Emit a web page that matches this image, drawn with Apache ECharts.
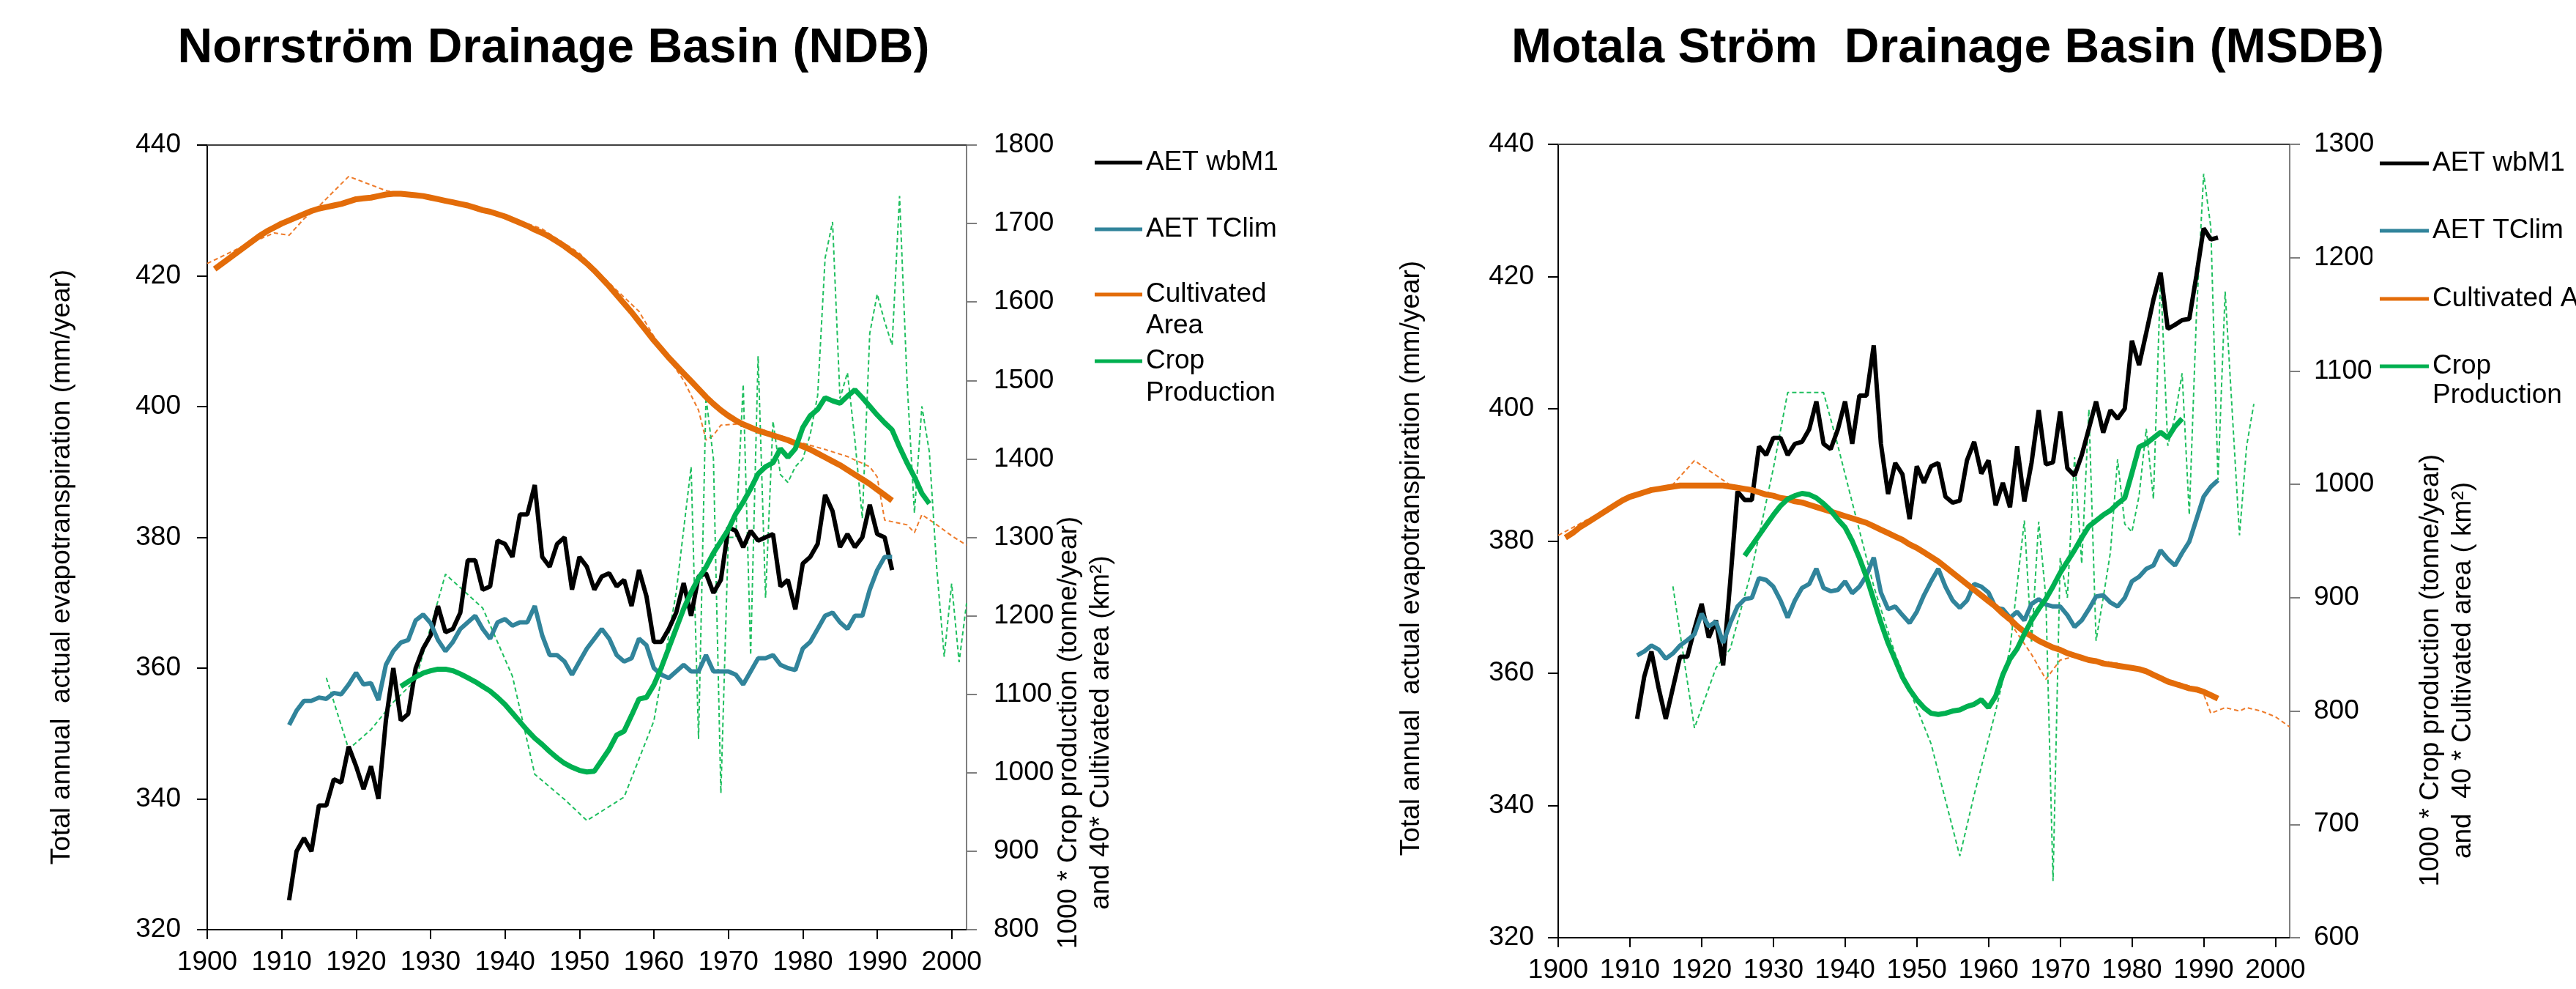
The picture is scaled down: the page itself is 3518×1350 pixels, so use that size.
<!DOCTYPE html>
<html><head><meta charset="utf-8">
<script src="https://cdn.jsdelivr.net/npm/echarts@6/dist/echarts.min.js"></script>
<style>html,body{margin:0;padding:0;background:#fff}#c{width:3518px;height:1350px}</style>
</head><body><div id="c"></div>
<script>
// ---------------- DATA ----------------
const xTickYears = [1900,1910,1920,1930,1940,1950,1960,1970,1980,1990,2000];

// NDB (left panel)
const ndbAetStart = 1911;
const ndbAetWbm1 = [324.5,332,334,332,339,339,343,342.5,348,345,
  341.5,345,340,352,360,352,353,360,363,365,
  369.5,365.5,366,368.5,376.5,376.5,372,372.5,379.5,379,
  377,383.5,383.5,388,377,375.5,379,380,372,377,
  375.5,372,374,374.5,372.5,373.5,369.5,375,371,364,
  364,366,368.5,373,368,374,374.5,371.5,373.5,381.5,
  381,378.5,381,379.5,380,380.5,372.5,373.5,369,376,
  377,379,386.5,384,378.5,380.5,378.5,380,385,380.5,
  380,375];
const ndbAetTclim = [351.3,353.5,355,355,355.5,355.3,356.2,356,357.5,359.3,
  357.5,357.7,355.1,360.5,362.6,363.9,364.3,367.3,368.2,366.9,
  364.3,362.6,364,366,367,368,366,364.5,367,367.5,
  366.5,367,367,369.5,365,362,362,361,359,361,
  363,364.5,366,364.5,362,361,361.5,364.5,363.5,360,
  359,358.5,359.5,360.5,359.5,359.5,362,359.5,359.5,359.5,
  359,357.5,359.5,361.5,361.5,362,360.5,360,359.7,363,
  364,366,368,368.5,367,366,368,368,372,375,
  377,377];
const ndbCultStart = 1901;
const ndbCultArea = [1642,1649,1656,1663,1670,1677,1684,1690,1695,1700,
  1704,1708,1712,1716,1719,1721,1723,1725,1728,1731,
  1732,1733,1735,1737,1738,1738,1737,1736,1735,1733,
  1731,1729,1727,1725,1723,1720,1717,1715,1712,1709,
  1705,1701,1697,1692,1688,1683,1677,1671,1664,1657,
  1649,1640,1630,1620,1609,1598,1587,1575,1563,1551,
  1540,1529,1519,1509,1499,1489,1479,1470,1462,1455,
  1449,1444,1440,1436,1433,1430,1427,1424,1420,1416,
  1412,1407,1402,1397,1392,1386,1380,1374,1368,1361,
  1354,1347];
const ndbCultRawYears = [1900,1905,1909,1911,1913,1915,1919,1924,1926,1930,1935,1940,1945,1950,1955,1958,1960,1962,1964,1966,1967,1968,1969,1972,1975,1980,1983,1986,1989,1990,1991,1993,1994,1995,1996,1998,2000,2002];
const ndbCultRawVals  = [1649,1672,1688,1685,1706,1722,1760,1742,1738,1733,1724,1710,1693,1662,1615,1588,1556,1528,1500,1462,1424,1430,1443,1445,1436,1420,1412,1403,1390,1377,1322,1318,1316,1306,1329,1316,1302,1290];
const ndbCropStart = 1926;
const ndbCropProd = [1110,1116,1122,1127,1130,1132,1132,1130,1126,1121,
  1116,1110,1104,1096,1087,1076,1065,1054,1044,1036,
  1027,1019,1012,1007,1003,1001,1002,1016,1030,1048,
  1053,1073,1094,1096,1112,1134,1159,1184,1209,1230,
  1248,1262,1280,1295,1310,1330,1345,1362,1381,1390,
  1395,1413,1402,1413,1440,1455,1463,1478,1474,1471,
  1480,1488,1478,1467,1456,1446,1437,1415,1395,1377,
  1356,1343];
const ndbCropRawYears = [1916,1919,1922,1925,1928,1932,1937,1941,1944,1948,1951,1956,1960,1963,1965,1966,1967,1968,1969,1970,1971,1972,1973,1974,1975,1976,1977,1978,1979,1980,1981,1982,1983,1984,1985,1986,1987,1988,1989,1990,1991,1992,1993,1994,1995,1996,1997,1998,1999,2000,2001,2002];
const ndbCropRawVals  = [1121,1030,1055,1090,1118,1253,1210,1123,998,966,939,969,1066,1230,1390,1043,1479,1400,974,1300,1300,1495,1150,1531,1223,1448,1380,1370,1390,1400,1431,1481,1656,1702,1477,1510,1424,1324,1560,1610,1575,1545,1735,1500,1331,1467,1409,1260,1148,1241,1141,1216];

// MSDB (right panel)
const msdbAetStart = 1911;
const msdbAetWbm1 = [353.1,359.5,363.3,357.8,353.1,357.8,362.5,362.5,366.7,370.5,
  365.4,368,361.2,374,387.5,386.2,386.2,394.3,393,395.6,
  395.6,393,394.7,395,396.9,401.1,394.7,393.9,396.9,401.1,
  394.7,402,402,409.6,394.7,387.1,391.8,390.1,383.3,391.3,
  388.8,391.3,391.8,386.7,385.8,386.1,392.2,395,390.2,392.2,
  385.4,388.8,385.1,394.3,386,391.8,399.8,391.6,391.9,399.6,
  391,389.9,393,397,401.1,396.4,399.8,398.5,400,410.3,
  406.6,411.5,416.5,420.6,412.1,412.7,413.4,413.6,420.2,427.3,
  425.6,425.9];
const msdbAetTclim = [362.7,363.3,364.2,363.6,362.2,363,364.2,365,365.9,369,
  367.1,367.8,364.6,367.6,370.1,371.2,371.4,374.4,374.1,373.1,
  371,368.4,371,372.9,373.5,375.8,372.9,372.4,372.6,373.9,
  372.1,373.1,374.8,377.5,372.2,369.7,370.1,368.8,367.6,369.3,
  371.8,373.9,375.8,373.1,371,369.9,371,373.5,373.1,372.2,
  369.9,369.7,368.4,369.3,368,370.5,371.2,370.4,370.1,370.1,
  368.8,367,368,369.7,371.6,371.8,370.7,370.1,371.4,373.9,
  374.6,375.8,376.3,378.6,377.3,376.3,378.2,379.9,383.3,386.7,
  388.2,389.2];
const msdbCultStart = 1901;
const msdbCultArea = [953,957,962,966,970,974,978,982,986,989,
  991,993,995,996,997,998,999,999,999,999,
  999,999,999,998,997,996,995,993,991,990,
  988,987,985,984,982,980,978,976,974,972,
  970,968,966,963,960,957,954,951,947,944,
  940,936,932,927,922,917,912,907,902,897,
  892,886,881,875,870,866,862,859,856,854,
  851,849,847,845,844,842,841,840,839,838,
  837,835,832,829,826,824,822,820,819,817,
  814,811];
const msdbCultRawYears = [1900,1905,1910,1914,1916,1919,1922,1925,1928,1932,1936,1940,1945,1950,1955,1960,1963,1966,1968,1970,1972,1975,1978,1980,1984,1988,1990,1991,1993,1995,1996,1998,2000,2002];
const msdbCultRawVals  = [955,972,988,997,1000,1021,1008,995,993,987,980,972,960,942,922,896,878,850,828,845,848,845,842,838,830,822,815,798,803,800,803,800,795,786];
const msdbCropStart = 1926;
const msdbCropProd = [937,946,955,964,973,981,987,990,992,991,
  988,983,977,969,962,950,935,918,898,878,
  860,845,830,819,810,803,798,797,798,800,
  801,804,806,810,803,813,832,846,855,868,
  880,890,899,910,922,932,942,953,963,968,
  973,977,983,988,1010,1033,1036,1041,1046,1041,
  1051,1058];
const msdbCropRawYears = [1916,1919,1922,1924,1927,1930,1932,1937,1939,1941,1944,1947,1952,1956,1958,1961,1963,1965,1966,1967,1968,1969,1970,1971,1972,1973,1974,1975,1976,1977,1978,1979,1980,1981,1982,1983,1984,1985,1986,1987,1988,1989,1990,1991,1992,1993,1995,1996,1997];
const msdbCropRawVals  = [910,785,838,855,925,1014,1081,1081,1034,984,910,850,771,672,726,800,855,968,860,967,900,650,935,900,1024,930,1066,862,900,940,1022,965,958,990,1049,987,1184,1034,1060,1098,973,1150,1274,1227,1004,1170,955,1034,1071];

// ---------------- CHART ----------------
const FONT = "'Liberation Sans', Arial, Helvetica, sans-serif";
const annual = (start, vals) => vals.map((v, i) => [start + i, v]);
const pairs = (ys, vs) => ys.map((y, i) => [y, vs[i]]);
const plain = v => String(v);

const C_BLACK = '#000000', C_BLUE = '#31849B', C_ORANGE = '#E36C09', C_GREEN = '#00B050';
const C_ORANGE_D = '#EE7B2A', C_GREEN_D = '#1FBF5F';

function xAx(grid) {
  return [{
    gridIndex: grid, type: 'value', min: 1900, max: 2002, position: 'bottom',
    axisLine: { onZero: false, lineStyle: { color: '#000', width: 2 } },
    axisTick: { inside: false, length: 13, lineStyle: { color: '#000', width: 2 }, customValues: xTickYears },
    axisLabel: { customValues: xTickYears, formatter: plain, margin: 26, fontSize: 37, color: '#000', fontFamily: FONT },
    splitLine: { show: false }
  }, {
    gridIndex: grid, type: 'value', min: 1900, max: 2002, position: 'top',
    axisLine: { onZero: false, lineStyle: { color: '#404040', width: 2 } },
    axisTick: { show: false }, axisLabel: { show: false }, splitLine: { show: false }
  }];
}
function yAx(grid, min, max, interval, pos, color, margin) {
  return {
    gridIndex: grid, type: 'value', min, max, interval, position: pos,
    axisLine: { show: true, onZero: false, lineStyle: { color, width: 2 } },
    axisTick: { show: true, inside: false, length: 14, lineStyle: { color, width: 2 } },
    axisLabel: { margin, formatter: plain, fontSize: 37, color: '#000', fontFamily: FONT },
    splitLine: { show: false }
  };
}
function line(name, data, xi, yi, color, width, dashed, z) {
  return {
    name, type: 'line', data, xAxisIndex: xi, yAxisIndex: yi,
    symbol: 'none', showSymbol: false, smooth: false, z,
    lineStyle: { color, width, type: dashed ? [6, 4] : 'solid' },
    itemStyle: { color },
    emphasis: { disabled: true }
  };
}
function legendItem(name, left, centerY, iconW, label) {
  return {
    data: [name], left, top: centerY - 18.5, orient: 'vertical', padding: 0,
    icon: 'rect', itemWidth: iconW, itemHeight: 5, selectedMode: false, z: 20,
    formatter: () => label,
    textStyle: { fontSize: 37, lineHeight: 37, color: '#000', fontFamily: FONT }
  };
}
function vText(text, x, y, lh) {
  return { type: 'text', x, y, rotation: Math.PI / 2, z: 5,
    style: { text, font: "37px " + FONT, fill: '#000', align: 'center', verticalAlign: 'middle', lineHeight: lh || 44 } };
}
function hText(text, x, y) {
  return { type: 'text', x, y, z: 25,
    style: { text, font: "37px " + FONT, fill: '#000', align: 'left', verticalAlign: 'middle' } };
}

const option = {
  animation: false,
  backgroundColor: '#fff',
  title: [
    { text: 'Norrström Drainage Basin (NDB)', left: 756, top: 34, textAlign: 'center', padding: 0,
      textStyle: { fontSize: 66, fontWeight: 'bold', color: '#000', fontFamily: FONT } },
    { text: 'Motala Ström  Drainage Basin (MSDB)', left: 2660, top: 34, textAlign: 'center', padding: 0,
      textStyle: { fontSize: 66, fontWeight: 'bold', color: '#000', fontFamily: FONT } }
  ],
  grid: [
    { left: 283, top: 198, width: 1037, height: 1071 },
    { left: 2128, top: 197, width: 999, height: 1083 }
  ],
  xAxis: [...xAx(0), ...xAx(1)],
  yAxis: [
    yAx(0, 320, 440, 20, 'left', '#000', 36),
    yAx(0, 800, 1800, 100, 'right', '#7f7f7f', 37),
    yAx(1, 320, 440, 20, 'left', '#000', 33),
    yAx(1, 600, 1300, 100, 'right', '#7f7f7f', 33)
  ],
  legend: [
    legendItem('AET wbM1', 1495, 222, 65, 'AET wbM1'),
    legendItem('AET TClim', 1495, 313, 65, 'AET TClim'),
    legendItem('Cultivated Area', 1495, 402, 65, 'Cultivated'),
    legendItem('Crop Production', 1495, 493, 65, 'Crop'),
    legendItem('AET wbM1', 3250, 223, 67, 'AET wbM1'),
    legendItem('AET TClim', 3250, 315, 67, 'AET TClim'),
    legendItem('Cultivated Area', 3250, 408, 67, 'Cultivated Area'),
    legendItem('Crop Production', 3250, 500, 67, 'Crop')
  ],
  graphic: [
    { type: 'rect', shape: { x: 3240, y: 214, width: 278, height: 400 }, style: { fill: '#fff' }, z: 10 },
    hText('Area', 1565, 445),
    hText('Production', 1565, 537),
    hText('Production', 3322, 540),
    vText('Total annual  actual evapotranspiration (mm/year)', 85, 774),
    vText('1000 * Crop production (tonne/year)\nand 40* Cultivated area (km²)', 1482, 1000, 44),
    vText('Total annual  actual evapotranspiration (mm/year)', 1928, 762),
    vText('1000 * Crop production (tonne/year)\nand  40 * Cultivated area ( km²)', 3342, 915, 44)
  ],
  series: [
    // left panel
    line('Cultivated Area (annual)', pairs(ndbCultRawYears, ndbCultRawVals), 0, 1, C_ORANGE_D, 2, true, 1),
    line('Crop Production (annual)', pairs(ndbCropRawYears, ndbCropRawVals), 0, 1, C_GREEN_D, 2, true, 1),
    line('AET wbM1', annual(ndbAetStart, ndbAetWbm1), 0, 0, C_BLACK, 6, false, 3),
    line('AET TClim', annual(ndbAetStart, ndbAetTclim), 0, 0, C_BLUE, 6, false, 3),
    line('Cultivated Area', annual(ndbCultStart, ndbCultArea), 0, 1, C_ORANGE, 8, false, 3),
    line('Crop Production', annual(ndbCropStart, ndbCropProd), 0, 1, C_GREEN, 7, false, 3),
    // right panel
    line('Cultivated Area (annual) ', pairs(msdbCultRawYears, msdbCultRawVals), 2, 3, C_ORANGE_D, 2, true, 1),
    line('Crop Production (annual) ', pairs(msdbCropRawYears, msdbCropRawVals), 2, 3, C_GREEN_D, 2, true, 1),
    line('AET wbM1', annual(msdbAetStart, msdbAetWbm1), 2, 2, C_BLACK, 6, false, 3),
    line('AET TClim', annual(msdbAetStart, msdbAetTclim), 2, 2, C_BLUE, 6, false, 3),
    line('Cultivated Area', annual(msdbCultStart, msdbCultArea), 2, 3, C_ORANGE, 8, false, 3),
    line('Crop Production', annual(msdbCropStart, msdbCropProd), 2, 3, C_GREEN, 7, false, 3)
  ]
};
const chart = echarts.init(document.getElementById('c'), null, { renderer: 'canvas' });
chart.setOption(option);
</script></body></html>
